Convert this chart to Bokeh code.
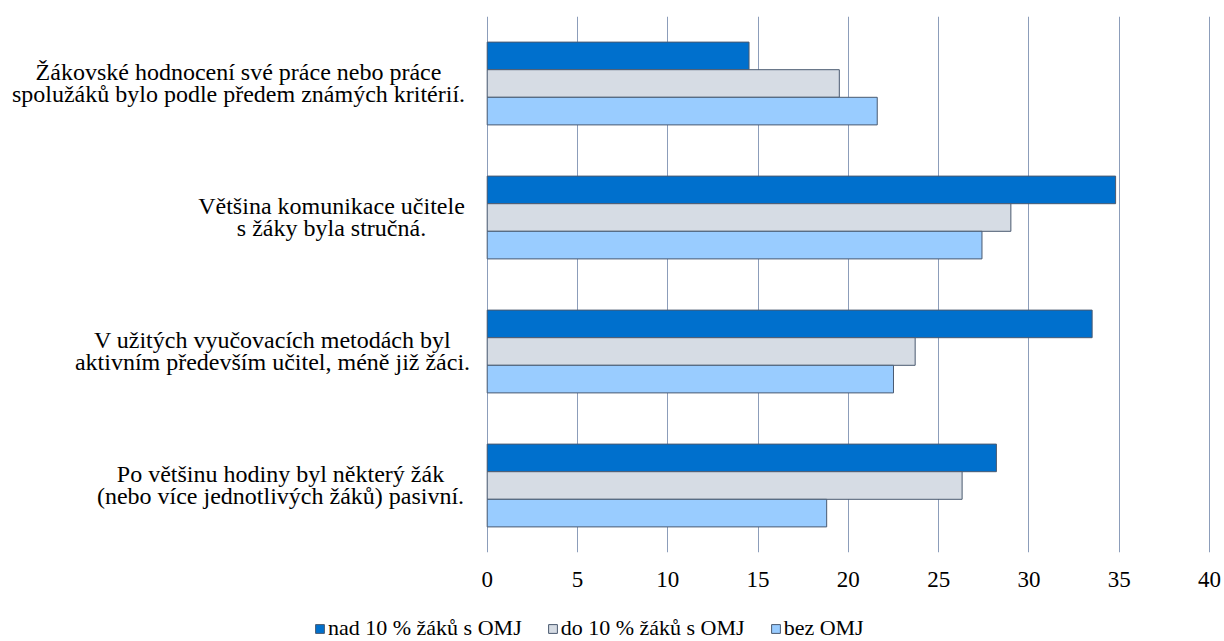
from bokeh.plotting import figure
from bokeh.layouts import column
from bokeh.models import (ColumnDataSource, FactorRange, Range1d, Legend,
                          LegendItem, FixedTicker, Label)
from bokeh.transform import dodge
from bokeh.embed import file_html
from bokeh.resources import INLINE

# ---------------- data ----------------
categories = [
    "Žákovské hodnocení své práce nebo práce\nspolužáků bylo podle předem známých kritérií.",
    "Většina komunikace učitele\ns žáky byla stručná.",
    "V užitých vyučovacích metodách byl\naktivním především učitel, méně již žáci.",
    "Po většinu hodiny byl některý žák\n(nebo více jednotlivých žáků) pasivní.",
]
series_names = ["nad 10 % žáků s OMJ", "do 10 % žáků s OMJ", "bez OMJ"]
nad_10 = [14.5, 34.8, 33.5, 28.2]
do_10 = [19.5, 29.0, 23.7, 26.3]
bez_omj = [21.6, 27.4, 22.5, 18.8]
x_ticks = [0, 5, 10, 15, 20, 25, 30, 35, 40]
x_max = 40

# ---------------- layout / styles ----------------
colors = ["#0070CD", "#D6DCE4", "#99CCFF"]
bar_line = "#4A5A70"
grid_col = "#8C9DBA"
FONT = "Liberation Serif"
FRAME_W = 1222          # frame spans whole figure width
ORIGIN_PX = 486.7       # pixel where value 0 sits
END_PX = 1209.0         # pixel where value 40 sits
label_center_px = [238, 331, 272, 280]   # centres of category label blocks
bar_h = 0.206

ppu = (END_PX - ORIGIN_PX) / x_max
x_start = -ORIGIN_PX / ppu
x_end = (FRAME_W - ORIGIN_PX) / ppu

src = ColumnDataSource(dict(cat=categories, nad=nad_10, do=do_10, bez=bez_omj))

factors = list(reversed(categories))
p = figure(frame_width=FRAME_W, frame_height=536,
           y_range=FactorRange(factors=factors),
           x_range=Range1d(x_start, x_end),
           y_axis_location=None,
           output_backend="svg", toolbar_location=None,
           min_border_left=0, min_border_right=0, min_border_top=16,
           min_border_bottom=0)
p.outline_line_color = None
p.background_fill_color = "white"
p.border_fill_color = "white"

rends = []
for i, (field, col) in enumerate(zip(["nad", "do", "bez"], colors)):
    off = bar_h * (1 - i)
    r = p.hbar(y=dodge("cat", off, range=p.y_range), left=0, right=field,
               height=bar_h, source=src, fill_color=col,
               line_color=bar_line, line_width=1)
    rends.append(r)

p.ygrid.visible = False
p.xgrid.ticker = FixedTicker(ticks=x_ticks)
p.xgrid.grid_line_color = grid_col
p.xgrid.grid_line_width = 1

xa = p.xaxis[0]
xa.ticker = FixedTicker(ticks=x_ticks)
xa.axis_line_color = None
xa.major_tick_line_color = None
xa.minor_tick_line_color = None
xa.major_tick_out = 0
xa.major_tick_in = 0
xa.axis_label_standoff = 0
xa.major_label_standoff = 19
xa.major_label_text_font = FONT
xa.major_label_text_font_size = "23px"
xa.major_label_text_color = "black"

# category labels (two centred lines each), drawn inside the wide frame;
# y is the synthetic coordinate of the category's centre on the factor range
for c, cpx in zip(categories, label_center_px):
    y_syn = factors.index(c) + 0.5
    for j, line in enumerate(c.split("\n")):
        p.add_layout(Label(x=(cpx - ORIGIN_PX) / ppu, y=y_syn,
                           y_offset=12 if j == 0 else -10,
                           text=line, text_align="center", text_baseline="middle",
                           text_font=FONT, text_font_size="24px",
                           text_color="black"))

# ---------------- legend strip (separate small figure below) ----------------
pl = figure(frame_width=FRAME_W, frame_height=56,
            x_range=Range1d(0, FRAME_W), y_range=Range1d(0, 1),
            x_axis_location=None, y_axis_location=None,
            output_backend="svg", toolbar_location=None,
            min_border_left=0, min_border_right=0, min_border_top=0,
            min_border_bottom=0)
pl.outline_line_color = None
pl.xgrid.visible = False
pl.ygrid.visible = False
# proxy renderers for the legend swatches; their single bar lies outside the
# strip's visible range, so only the legend swatch shows
leg_src = ColumnDataSource(dict(y=[-5], right=[1]))
leg_rends = [pl.hbar(y="y", left=0, right="right", height=0.5, source=leg_src,
                     fill_color=col, line_color=bar_line, line_width=1)
             for col in colors]

legend = Legend(items=[LegendItem(label=n, renderers=[r]) for n, r in zip(series_names, leg_rends)],
                orientation="horizontal", location=(314, 4),
                label_text_font=FONT, label_text_font_size="22px",
                label_text_color="black",
                glyph_width=11, glyph_height=11, label_standoff=3, spacing=25,
                padding=0, margin=0, border_line_color=None,
                background_fill_alpha=0)
pl.add_layout(legend, "center")

layout = column(p, pl, spacing=0)
open("out.html", "w").write(file_html(layout, INLINE))
